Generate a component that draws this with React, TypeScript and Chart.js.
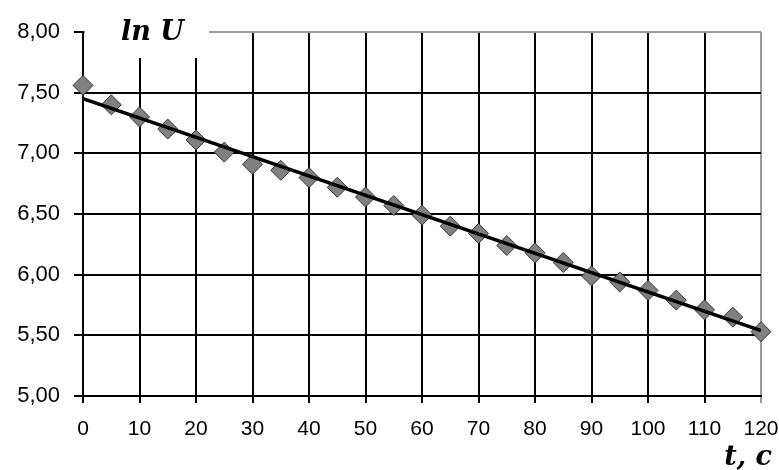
import React, { useEffect, useRef } from "react";
import { Chart, registerables } from "chart.js";

Chart.register(...registerables);

// Measured data: time t (s) and ln U
const timeValues = [0, 5, 10, 15, 20, 25, 30, 35, 40, 45, 50, 55, 60, 65, 70, 75, 80, 85, 90, 95, 100, 105, 110, 115, 120];
const lnUValues = [7.56, 7.40, 7.30, 7.20, 7.11, 7.01, 6.91, 6.86, 6.80, 6.72, 6.64, 6.57, 6.49, 6.40, 6.34, 6.24, 6.18, 6.10, 5.99, 5.94, 5.87, 5.79, 5.71, 5.65, 5.53];

// Linear trend line end points
const trendTimes = [0, 120];
const trendValues = [7.45, 5.54];

const yTitle = "ln U";
const xTitle = "t, c";

export default function App() {
  const canvasRef = useRef<HTMLCanvasElement | null>(null);

  useEffect(() => {
    if (!canvasRef.current) return;
    const titlePlugin = {
      id: "axisTitles",
      afterDraw(chart: any) {
        const ctx = chart.ctx as CanvasRenderingContext2D;
        const area = chart.chartArea;
        ctx.save();
        ctx.fillStyle = "#ffffff";
        ctx.fillRect(area.left + 2, 0, 124, 58);
        ctx.fillStyle = "#000000";
        ctx.font = 'bold italic 27px "DejaVu Serif"';
        ctx.textBaseline = "alphabetic";
        ctx.textAlign = "left";
        ctx.fillText(yTitle, 121, 40);
        ctx.textAlign = "right";
        ctx.fillText(xTitle, 772, 465);
        ctx.restore();
      },
    };

    const chart = new Chart(canvasRef.current, {
      type: "scatter",
      data: {
        datasets: [
          {
            type: "line",
            label: "trend",
            data: trendTimes.map((t, i) => ({ x: t, y: trendValues[i] })),
            borderColor: "#000000",
            borderWidth: 3.5,
            pointRadius: 0,
            fill: false,
          },
          {
            type: "scatter",
            label: "lnU",
            data: timeValues.map((t, i) => ({ x: t, y: lnUValues[i] })),
            pointStyle: "rectRot",
            pointRadius: 10,
            backgroundColor: "#808080",
            borderColor: "#333333",
            borderWidth: 1,
            clip: false as any,
          },
        ],
      },
      options: {
        animation: false,
        responsive: false,
        devicePixelRatio: 1,
        layout: { padding: { top: 32, right: 18, left: 0, bottom: 0 } },
        plugins: { legend: { display: false }, tooltip: { enabled: false } },
        scales: {
          x: {
            type: "linear",
            min: 0,
            max: 120,
            afterFit(scale: any) {
              scale.height = 74;
              scale.paddingLeft = 0;
              scale.paddingRight = 0;
            },
            ticks: {
              stepSize: 10,
              color: "#000000",
              padding: 14,
              font: { family: '"Liberation Sans", Arial, sans-serif', size: 21 },
            },
            grid: {
              color: (c: any) => (c.tick && c.tick.value === 120 ? "#9a9a9a" : "#000000"),
              lineWidth: 2,
              tickLength: 7,
              tickColor: (c: any) => (c.tick && c.tick.value === 120 ? "#9a9a9a" : "#000000"),
            },
            border: { color: "#000000", width: 2 },
          },
          y: {
            type: "linear",
            min: 5,
            max: 8,
            afterFit(scale: any) {
              scale.width = 83;
              scale.paddingTop = 0;
              scale.paddingBottom = 0;
            },
            ticks: {
              stepSize: 0.5,
              color: "#000000",
              padding: 14,
              font: { family: '"Liberation Sans", Arial, sans-serif', size: 22 },
              callback: (v: any) => Number(v).toFixed(2).replace(".", ","),
            },
            grid: {
              color: (c: any) => (c.tick && c.tick.value === 8 ? "#9a9a9a" : "#000000"),
              lineWidth: 2,
              tickLength: 9,
              tickColor: "#000000",
            },
            border: { color: "#000000", width: 2 },
          },
        },
      },
      plugins: [titlePlugin],
    });
    return () => chart.destroy();
  }, []);

  return (
    <div style={{ position: "absolute", left: 0, top: 0, width: 779, height: 470, background: "#fff" }}>
      <canvas ref={canvasRef} width={779} height={470} />
    </div>
  );
}
